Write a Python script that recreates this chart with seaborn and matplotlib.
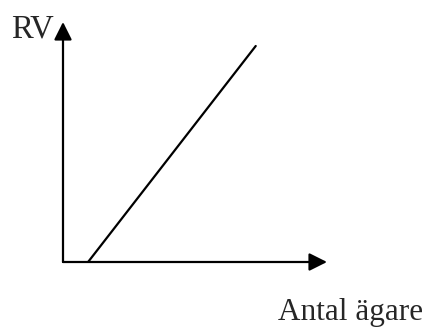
import matplotlib
matplotlib.use("Agg")
import matplotlib.pyplot as plt
import seaborn as sns
import pandas as pd

# Data (schematic: RV grows linearly with number of owners)
antal_agare = [0.95, 7.3]
rv = [0.0, 9.0]

sns.set_style("white")
plt.rcParams['font.family'] = ['Liberation Serif', 'DejaVu Serif']

df = pd.DataFrame({"Antal ägare": antal_agare, "RV": rv})

fig = plt.figure(figsize=(4.25, 3.29), dpi=100)
ax = fig.add_axes([63 / 425, 67 / 329, 264 / 425, 240 / 329])

sns.lineplot(data=df, x="Antal ägare", y="RV", color="black", linewidth=1.6, ax=ax)

ax.set_xlim(0, 10)
ax.set_ylim(0, 10)
ax.set_xticks([])
ax.set_yticks([])
ax.set_xlabel("")
ax.set_ylabel("")
for s in ax.spines.values():
    s.set_visible(False)

# Axes with arrow heads
arrow = dict(arrowstyle='-|>', color='black', lw=1.6, mutation_scale=27,
             shrinkA=0, shrinkB=0)
ax.annotate("", xy=(1, 0), xytext=(0, 0), xycoords='axes fraction',
            textcoords='axes fraction', arrowprops=arrow, annotation_clip=False)
ax.annotate("", xy=(0, 1), xytext=(0, 0), xycoords='axes fraction',
            textcoords='axes fraction', arrowprops=arrow, annotation_clip=False)

fig.text(54 / 425, 1 - 38 / 329, "RV", ha='right', va='baseline', fontsize=23.5)
fig.text(278 / 425, 1 - 320 / 329, "Antal ägare", ha='left', va='baseline', fontsize=22.5)

fig.savefig("out.png", dpi=100)
